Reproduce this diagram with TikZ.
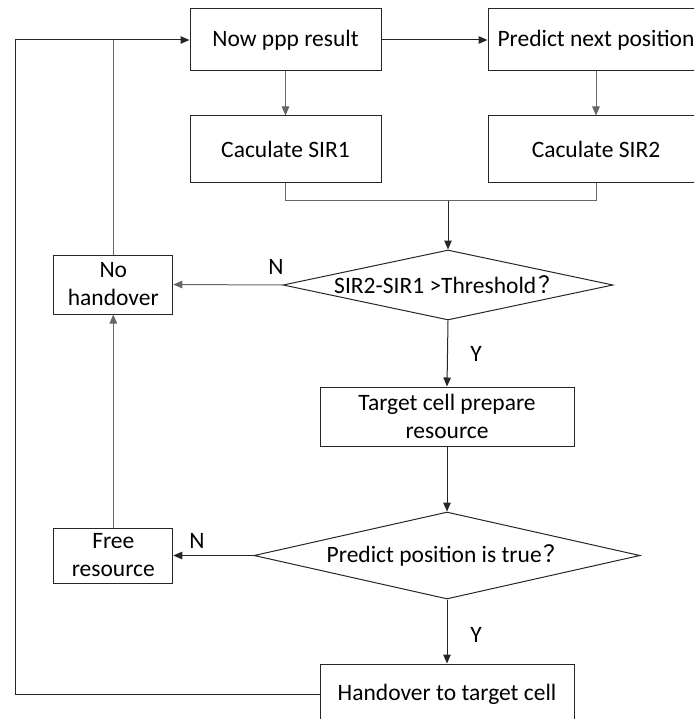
\documentclass[tikz,border=0pt]{standalone}
\usepackage{fontspec}
\setmainfont{Carlito}
\newfontfamily\cjk{Noto Sans CJK SC}
\usetikzlibrary{shapes.geometric,arrows.meta}
\begin{document}
\begin{tikzpicture}[x=1pt,y=-1pt,
  every node/.style={font=\fontsize{23.5}{28}\selectfont},
  box/.style={draw=black!85,line width=1pt,rectangle,inner sep=0pt,align=center},
  dia/.style={draw=black!85,line width=1pt,diamond,inner sep=0pt,align=center},
  lbl/.style={inner sep=0pt},
  conn/.style={line width=1pt,draw=black!85},
  gconn/.style={line width=1pt,draw=black!60},
  arr/.style={-{Triangle[length=9pt,width=7.5pt]}}
]
\useasboundingbox (0,0) rectangle (694,719);
\clip (0,0) rectangle (694,719);
\node[box,minimum width=191pt,minimum height=62pt] (now) at (285.5,40) {Now ppp result};
\node[box,minimum width=216pt,minimum height=62pt] (pred) at (596,40) {Predict next position};
\node[box,minimum width=191pt,minimum height=67pt] (sir1) at (285.5,149.5) {Caculate SIR1};
\node[box,minimum width=216pt,minimum height=67pt] (sir2) at (596,149.5) {Caculate SIR2};
\node[dia,aspect=4.7,minimum width=330pt,minimum height=70pt] (d1) at (448,285) {SIR2-SIR1 >Threshold\hspace{2pt}{\cjk ？}};
\node[box,minimum width=119pt,minimum height=59pt] (noh) at (113.3,284.5) {No\\handover};
\node[box,minimum width=254pt,minimum height=59pt] (tgt) at (447,416.5) {Target cell prepare\\resource};
\node[dia,aspect=4.44,minimum width=386pt,minimum height=87pt] (d2) at (447,555.5) {Predict position is true\hspace{2pt}{\cjk ？}};
\node[box,minimum width=119pt,minimum height=55pt] (free) at (113.3,555.5) {Free\\resource};
\node[box,minimum width=254pt,minimum height=60pt] (ho) at (447,694) {Handover to target cell};
\node[lbl] (n1) at (276,267) {N};
\node[lbl] (y1) at (476,354) {Y};
\node[lbl] (n2) at (197,541) {N};
\node[lbl] (y2) at (476,635) {Y};
\coordinate (merge) at (448,200.7);
\coordinate (loopx) at (15.5,40);
\draw[conn,arr] (now.east) -- (pred.west);
\draw[gconn,arr] (now.south) -- (sir1.north);
\draw[gconn,arr] (pred.south) -- (sir2.north);
\draw[gconn] (sir1.south) -- (sir1.south |- merge) -- (sir2.south |- merge) -- (sir2.south);
\draw[conn,arr] (merge) -- (d1.north);
\draw[gconn,arr] (d1.west) -- (noh.east);
\draw[conn,arr] (d1.south) -- (tgt.north);
\draw[conn,arr] (tgt.south) -- (d2.north);
\draw[conn,arr] (d2.west) -- (free.east);
\draw[conn,arr] (d2.south) -- (ho.north);
\draw[gconn,arr] (free.north) -- (noh.south);
\draw[gconn] (noh.north) -- (noh.north |- loopx);
\draw[conn,arr] (ho.west) -- (ho.west -| loopx) -- (loopx) -- (now.west);
\end{tikzpicture}
\end{document}
